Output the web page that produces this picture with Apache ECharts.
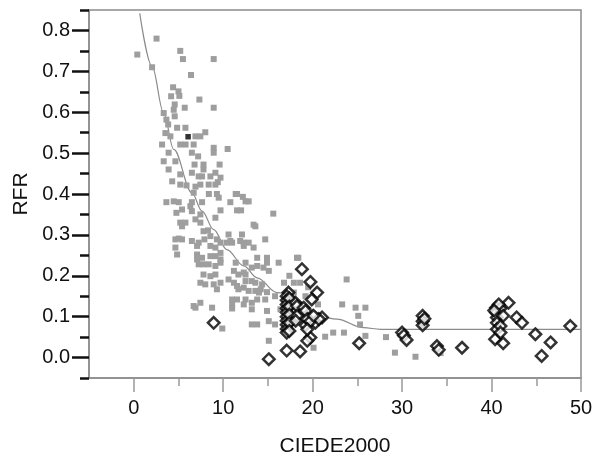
<!DOCTYPE html>
<html><head><meta charset="utf-8">
<script src="https://cdn.jsdelivr.net/npm/echarts@6/dist/echarts.min.js"></script>
<style>html,body{margin:0;padding:0;background:#fff}#c{width:601px;height:455px}</style>
</head><body><div id="c"></div>
<script>
// Gray squares (CIEDE2000, RFR)
const grayPoints = [
[0.40,0.741],[2.55,0.780],[2.05,0.710],[5.2,0.750],[5.5,0.730],[8.94,0.730],[6.4,0.691],
[4.4,0.661],[5.0,0.651],[4.18,0.639],[5.1,0.640],[4.58,0.619],[4.47,0.606],[4.58,0.590],[5.7,0.611],[7.34,0.631],[8.94,0.611],
[3.35,0.598],[3.65,0.582],[3.85,0.570],[4.85,0.562],[5.78,0.562],[3.54,0.549],[4.1,0.541],[8.0,0.551],
[6.9,0.541],[7.45,0.541],[3.17,0.521],[5.2,0.521],[5.8,0.521],[6.7,0.521],[8.94,0.513],[8.94,0.501],[10.5,0.510],[3.9,0.501],[6.5,0.501],[7.2,0.492],
[3.35,0.480],[4.66,0.480],[6.8,0.472],[7.8,0.472],[7.8,0.460],[9.6,0.472],[3.9,0.460],[5.2,0.448],[4.3,0.431],
[6.5,0.452],[7.26,0.443],[7.64,0.443],[8.57,0.443],[9.13,0.452],[9.7,0.440],[9.4,0.429],
[5.2,0.423],[7.45,0.423],[8.38,0.423],[9.13,0.423],[5.9,0.421],[6.9,0.418],
[6.7,0.403],[8.4,0.400],[9.3,0.400],[11.4,0.400],[12.2,0.393],[9.5,0.391],[11.55,0.400],
[3.65,0.380],[5.03,0.380],[6.5,0.380],[7.64,0.380],[10.8,0.380],[12.5,0.382],[4.47,0.382],[6.33,0.370],[12.85,0.382],
[4.77,0.354],[5.4,0.362],[6.5,0.358],[7.45,0.350],[9.7,0.360],[11.55,0.360],[12.0,0.360],[15.6,0.352],
[5.2,0.330],[5.78,0.330],[6.9,0.338],[7.45,0.330],[9.13,0.342],[13.6,0.321],[13.4,0.325],[5.4,0.321],
[7.8,0.309],[8.57,0.297],[8.3,0.311],[10.6,0.301],[12.1,0.301],
[4.66,0.289],[5.4,0.289],[5.03,0.291],[6.5,0.285],[7.08,0.273],[8.57,0.273],[9.3,0.289],[9.7,0.281],[7.26,0.281],[7.9,0.289],
[10.8,0.285],[11.9,0.285],[12.85,0.281],[10.4,0.281],[11.0,0.281],[12.3,0.281],[14.7,0.289],[12.3,0.273],
[4.66,0.269],[9.13,0.269],[13.4,0.269],
[4.85,0.252],[7.08,0.252],[7.08,0.240],[7.64,0.244],[8.57,0.248],[9.13,0.248],[9.7,0.256],[9.7,0.240],
[8.38,0.228],[9.13,0.224],[9.7,0.232],[7.26,0.228],[7.8,0.228],[11.4,0.232],[12.5,0.232],
[13.8,0.244],[14.9,0.244],[13.8,0.224],[14.5,0.220],[16.2,0.232],[18.25,0.244],[14.9,0.232],
[13.2,0.220],[15.1,0.212],[11.2,0.212],[11.7,0.203],[12.5,0.203],[12.3,0.208],[7.8,0.203],[8.57,0.199],[9.13,0.203],
[7.45,0.183],[8.0,0.179],[8.94,0.179],[9.3,0.167],[9.7,0.183],[10.6,0.191],
[11.2,0.183],[11.55,0.175],[12.3,0.171],[13.6,0.183],[14.2,0.167],[14.0,0.159],[12.5,0.187],[13.2,0.187],[14.35,0.179],
[17.9,0.183],[18.6,0.183],[23.8,0.191],[16.8,0.183],
[11.7,0.167],[12.85,0.163],[13.6,0.163],[14.9,0.160],
[11.55,0.142],[12.5,0.142],[13.8,0.142],[11.0,0.142],[14.7,0.142],[15.8,0.150],[17.9,0.159],[19.2,0.150],
[7.45,0.134],[6.7,0.126],[8.76,0.122],[11.0,0.130],[12.3,0.130],[13.2,0.134],[6.9,0.122],[11.0,0.120],[13.2,0.118],[14.9,0.114],[16.4,0.118],
[23.3,0.130],[24.8,0.122],[25.9,0.122],[25.1,0.102],[25.3,0.081],
[13.2,0.081],[13.8,0.081],[15.1,0.089],[15.8,0.081],[9.9,0.071],
[15.1,0.041],[21.4,0.051],[22.3,0.061],[23.5,0.061],[25.9,0.053],[20.1,0.024],[28.2,0.050],[29.2,0.012],[31.5,0.002],[34.3,0.011],
[18.4,0.244],[17.4,0.200],[19.5,0.172],[20.6,0.130]
];
// single black filled square
const blackPoints = [[6.08,0.540]];
// open black diamonds
const diamondPoints = [
[8.94,0.085],[15.1,-0.004],[17.1,0.017],[18.6,0.015],[25.2,0.035],[18.8,0.216],[19.75,0.185],[20.5,0.159],[19.9,0.142],[21.05,0.098],[20.3,0.085],[19.2,0.079],[19.75,0.049],[19.4,0.041],
[17.3,0.159],[17.1,0.150],[17.1,0.140],[17.1,0.130],[17.1,0.120],[17.1,0.110],[17.1,0.100],[17.1,0.090],[17.1,0.080],[17.1,0.070],[17.1,0.061],
[17.4,0.145],[17.4,0.125],[17.4,0.105],[17.4,0.085],[17.4,0.065],
[18.1,0.134],[18.25,0.126],[18.25,0.102],[18.1,0.090],[19.0,0.122],[19.2,0.114],[19.4,0.094],[19.75,0.089],[20.7,0.094],[20.1,0.102],[19.4,0.069],
[30.0,0.061],[30.2,0.054],[30.5,0.043],[32.3,0.102],[32.3,0.089],[32.3,0.079],[32.5,0.095],[33.9,0.028],[34.1,0.019],[36.7,0.024],
[40.5,0.122],[40.5,0.110],[40.6,0.098],[40.6,0.085],[40.6,0.069],[40.4,0.045],[41.3,0.035],[41.0,0.120],[41.3,0.102],[41.0,0.077],[41.0,0.061],[41.9,0.134],[42.8,0.098],[43.4,0.085],[44.9,0.057],[46.6,0.037],[45.6,0.004],[48.8,0.077],[40.8,0.130],[40.3,0.115]
];
// fitted curve
const curvePoints = [[0.67,0.842],[2.05,0.712],[3.35,0.598],[4.47,0.509],[6.5,0.403],[7.64,0.358],[8.94,0.313],[10.4,0.264],[12.3,0.224],[13.8,0.195],[16.0,0.159],[22.7,0.094],[25.7,0.073],[27.6,0.069],[50,0.069]];
const xMajorTicks = [0,10,20,30,40,50];
const xMinorTicks = [5,15,25,35,45];
const yMajorTicks = [0,0.1,0.2,0.3,0.4,0.5,0.6,0.7,0.8];
const yMinorTicks = [-0.05,0.05,0.15,0.25,0.35,0.45,0.55,0.65,0.75,0.85];

const FONT = 'Liberation Sans, Arial, sans-serif';
const chart = echarts.init(document.getElementById('c'), null, {renderer:'canvas'});
chart.setOption({
  animation:false,
  grid:{left:89,right:20,top:10,bottom:77,containLabel:false,outerBoundsMode:'none',show:true,borderColor:'#8c8c8c',borderWidth:1.5,backgroundColor:'transparent'},
  xAxis:[{
    type:'value',min:-5,max:50,position:'bottom',
    name:'CIEDE2000',nameLocation:'middle',nameGap:58,
    nameTextStyle:{fontFamily:FONT,fontSize:21,color:'#111'},
    axisLine:{show:true,onZero:false,lineStyle:{color:'#8c8c8c',width:1.5}},
    axisTick:{show:true,customValues:xMajorTicks,length:14,lineStyle:{color:'#999',width:1.5}},
    axisLabel:{customValues:xMajorTicks,margin:20,fontFamily:FONT,fontSize:20,color:'#111'},
    splitLine:{show:false}
  },{
    type:'value',min:-5,max:50,position:'bottom',
    axisLine:{show:false,onZero:false},
    axisTick:{show:true,customValues:xMinorTicks,length:8,lineStyle:{color:'#999',width:1.5}},
    axisLabel:{show:false},splitLine:{show:false}
  }],
  yAxis:[{
    type:'value',min:-0.05,max:0.85,position:'left',
    name:'RFR',nameLocation:'middle',nameGap:51,
    nameTextStyle:{fontFamily:FONT,fontSize:21,color:'#111'},
    axisLine:{show:true,onZero:false,lineStyle:{color:'#8c8c8c',width:1.5}},
    axisTick:{show:true,customValues:yMajorTicks,length:17,lineStyle:{color:'#111',width:2.5}},
    axisLabel:{customValues:yMajorTicks,margin:19,fontFamily:FONT,fontSize:20,color:'#111',formatter:v=>v.toFixed(1)},
    splitLine:{show:false}
  },{
    type:'value',min:-0.05,max:0.85,position:'left',
    axisLine:{show:false,onZero:false},
    axisTick:{show:true,customValues:yMinorTicks,length:9,lineStyle:{color:'#111',width:2.5}},
    axisLabel:{show:false},splitLine:{show:false}
  }],
  series:[
    {type:'line',data:curvePoints,smooth:0.35,smoothMonotone:'x',showSymbol:false,symbol:'none',
     lineStyle:{color:'#8a8a8a',width:1.2},z:1,silent:true},
    {type:'scatter',data:grayPoints,symbol:'rect',symbolSize:6,itemStyle:{color:'#9e9e9e',opacity:1},z:2},
    {type:'scatter',data:blackPoints,symbol:'rect',symbolSize:5.5,itemStyle:{color:'#000'},z:3},
    {type:'scatter',data:diamondPoints,symbol:'diamond',symbolSize:11.5,itemStyle:{color:'#fff',borderColor:'#000',borderWidth:2.5},z:4}
  ]
});
</script></body></html>
